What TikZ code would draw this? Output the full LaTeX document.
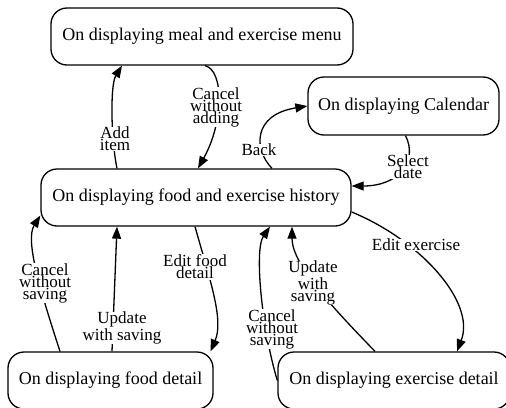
\documentclass[tikz,border=0pt]{standalone}
\usepackage{fontspec}
\setmainfont{Liberation Serif}
\usetikzlibrary{arrows.meta}
\begin{document}
\begin{tikzpicture}[x=1pt,y=-1pt,
  state/.style={draw,line width=1.3pt,rounded corners=16pt,inner sep=0pt,
    font=\fontsize{18}{20}\selectfont},
  lbl/.style={fill=white,inner sep=0.5pt,align=center,
    font=\fontsize{17}{12}\selectfont},
  edge/.style={line width=1.3pt,-{Stealth[length=12pt,width=9pt,inset=0pt]}}]
\useasboundingbox (0,0) rectangle (506,407);
\node[state,minimum width=302pt,minimum height=57pt] (menu) at (202,36.5) {On displaying meal and exercise menu};
\node[state,minimum width=191pt,minimum height=58pt] (cal) at (403.5,106) {On displaying Calendar};
\node[state,minimum width=310pt,minimum height=57pt] (hist) at (196,197.5) {On displaying food and exercise history};
\node[state,minimum width=205pt,minimum height=57pt] (food) at (110.5,380.5) {On displaying food detail};
\node[state,minimum width=232pt,minimum height=57pt] (ex) at (394,380.5) {On displaying exercise detail};
% edges
\draw[edge] ([xshift=-79pt]hist.north) .. controls (111,140) and (110,85) .. ([xshift=-80pt]menu.south);
\draw[edge] ([xshift=3pt]menu.south) .. controls (224,70) and (224,122) .. ([xshift=2pt]hist.north);
\draw[edge] ([xshift=76pt]hist.north) .. controls (254,150) and (252,115) .. (cal.west);
\draw[edge] ([xshift=2pt]cal.south) .. controls (418,160) and (400,186) .. ([yshift=11.5pt]hist.east);
\draw[edge] ([xshift=-50.5pt]food.north) .. controls (40,290) and (25,240) .. ([yshift=-18pt]hist.west);
\draw[edge] ([xshift=1.5pt]food.north) -- ([xshift=-79pt]hist.south);
\draw[edge] ([xshift=-1pt]hist.south) .. controls (210,280) and (224,320) .. ([xshift=100pt]food.north);
\draw[edge] (ex.west) .. controls (262,330) and (254,250) .. ([xshift=74pt]hist.south);
\draw[edge] ([xshift=-19pt]ex.north) .. controls (335,310) and (292,265) .. ([xshift=96pt]hist.south);
\draw[edge] ([yshift=-14.5pt]hist.east) .. controls (420,240) and (476,302) .. ([xshift=63pt]ex.north);
% labels
\node[lbl] (l1) at (115,139) {Add\\item};
\node[lbl] (l2) at (216,107) {Cancel\\without\\adding};
\node[lbl] (l3) at (259,150) {Back};
\node[lbl] (l4) at (408,167) {Select\\date};
\node[lbl] (l5) at (45,283) {Cancel\\without\\saving};
\node[lbl] (l6) at (122,328) {Update\\with saving};
\node[lbl] (l7) at (195,267) {Edit food\\detail};
\node[lbl] (l8) at (272,329) {Cancel\\without\\saving};
\node[lbl] (l9) at (313,283) {Update\\with\\saving};
\node[lbl] (l10) at (416,245) {Edit exercise};
\end{tikzpicture}
\end{document}
